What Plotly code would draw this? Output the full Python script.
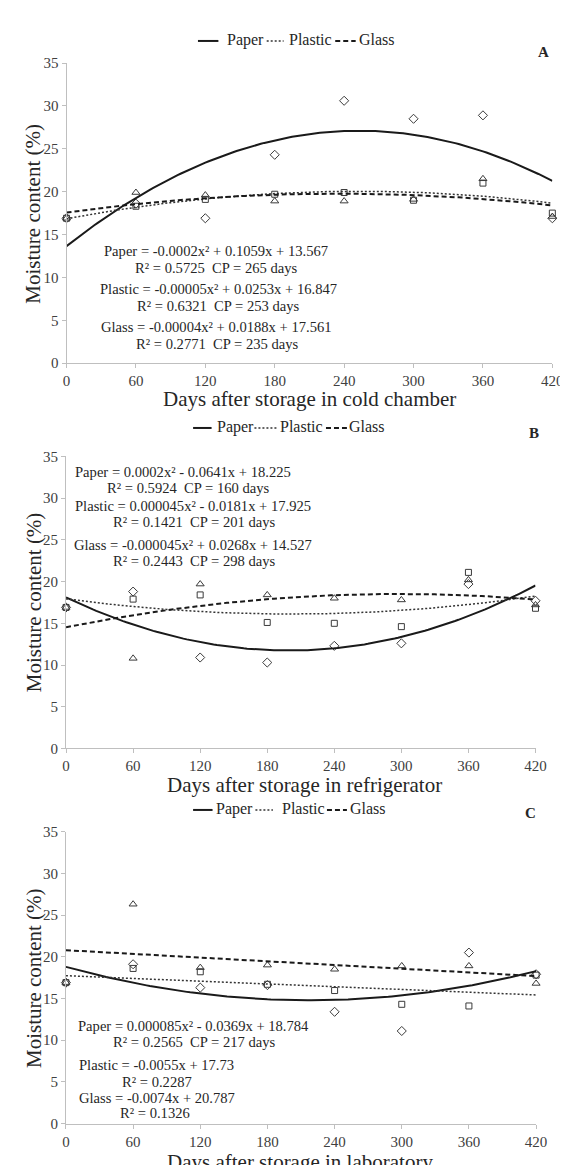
import numpy as np
import plotly.graph_objects as go

W, H = 568, 1165
FONT = "Liberation Serif"

# ---------------- data ----------------
days = [0, 60, 120, 180, 240, 300, 360, 420]
x_ticks = [0, 60, 120, 180, 240, 300, 360, 420]
y_ticks = [0, 5, 10, 15, 20, 25, 30, 35]

# Panel A - cold chamber
paper_A = [16.9, 18.6, 16.9, 24.3, 30.6, 28.5, 28.9, 16.9]
plastic_A = [16.9, 18.3, 19.1, 19.7, 19.9, 19.0, 21.0, 17.5]
glass_A = [16.9, 19.9, 19.6, 18.9, 18.9, 19.1, 21.5, 17.1]
# Panel B - refrigerator
paper_B = [16.9, 18.8, 10.9, 10.3, 12.3, 12.6, 19.7, 17.7]
plastic_B = [16.9, 17.9, 18.4, 15.1, 15.0, 14.6, 21.1, 16.8]
glass_B = [16.9, 10.8, 19.7, 18.4, 18.0, 17.8, 20.2, 17.2]
# Panel C - laboratory
paper_C = [16.9, 19.1, 16.3, 16.6, 13.4, 11.1, 20.5, 17.9]
plastic_C = [16.9, 18.6, 18.2, 16.7, 15.95, 14.3, 14.1, 17.8]
glass_C = [16.9, 26.3, 18.7, 19.0, 18.5, 18.9, 18.9, 16.8]

# trend-line coefficients [a, b, c] for a*x^2 + b*x + c (as drawn)
paper_fit_A = [-0.00021, 0.1063, 13.65]
plastic_fit_A = [-0.00005, 0.0253, 16.847]
glass_fit_A = [-0.00004, 0.0188, 17.561]
paper_fit_B = [0.00016, -0.0638, 18.1]
plastic_fit_B = [0.000045, -0.0181, 17.925]
glass_fit_B = [-0.000045, 0.0268, 14.527]
paper_fit_C = [0.000085, -0.0369, 18.784]
plastic_fit_C = [0.0, -0.0055, 17.73]
glass_fit_C = [0.0, -0.0074, 20.787]

series_names = ["Paper", "Plastic", "Glass"]

eq_A = ["Paper = -0.0002x² + 0.1059x + 13.567", "R² = 0.5725 \u00a0CP = 265 days",
        "Plastic = -0.00005x² + 0.0253x + 16.847", "R² = 0.6321 \u00a0CP = 253 days",
        "Glass = -0.00004x² + 0.0188x + 17.561", "R² = 0.2771 \u00a0CP = 235 days"]
eq_B = ["Paper = 0.0002x² - 0.0641x + 18.225", "R² = 0.5924 \u00a0CP = 160 days",
        "Plastic = 0.000045x² - 0.0181x + 17.925", "R² = 0.1421 \u00a0CP = 201 days",
        "Glass = -0.000045x² + 0.0268x + 14.527", "R² = 0.2443 \u00a0CP = 298 days"]
eq_C = ["Paper = 0.000085x² - 0.0369x + 18.784", "R² = 0.2565 \u00a0CP = 217 days",
        "Plastic = -0.0055x + 17.73", "R² = 0.2287",
        "Glass = -0.0074x + 20.787", "R² = 0.1326"]

x_titles = ["Days after storage in cold chamber", "Days after storage in refrigerator",
            "Days after storage in laboratory"]
y_title = "Moisture content (%)"
panel_letters = ["A", "B", "C"]

# ---------------- layout geometry (pixels) ----------------
panels = [
    dict(x0=56, x1=555, ytop=47.7, ybot=352, pts=(paper_A, plastic_A, glass_A),
         fits=(paper_fit_A, plastic_fit_A, glass_fit_A), eq=eq_A,
         eq_pos=[(210, 238.3), (210, 255.5), (212, 277.3), (212, 294.3), (210, 315), (211, 332.3)],
         xt=(306, 388, "middle"), yt=(22, 200), letter=(546, 37), leg_y=24.3,
         leg=[(191, 212, 219), (261.6, 279, 282.6), (332, 353, 354)]),
    dict(x0=55.5, x1=537.7, ytop=446.5, ybot=742.7, pts=(paper_B, plastic_B, glass_B),
         fits=(paper_fit_B, plastic_fit_B, glass_fit_B), eq=eq_B,
         eq_pos=[(175.4, 462.7), (181, 479), (186, 496.7), (187.5, 513.3), (185.7, 536), (187, 552.7)],
         xt=(300, 780, "middle"), yt=(22, 594), letter=(536, 423), leg_y=416.7,
         leg=[(186, 205, 208), (249, 272, 273.5), (322.5, 344, 344)]),
    dict(x0=55.4, x1=538.3, ytop=827, ybot=1123, pts=(paper_C, plastic_C, glass_C),
         fits=(paper_fit_C, plastic_fit_C, glass_fit_C), eq=eq_C,
         eq_pos=[(186.6, 1024.3), (187, 1040.7), (148.8, 1063.3), (149, 1080.7), (149, 1096.7), (147, 1112.7)],
         xt=(296, 1147.5, "top"), yt=(22, 975), letter=(532.6, 808), leg_y=804,
         leg=[(186, 206, 207), (250, 268, 275), (323.5, 344, 345)]),
]

def PX(x):
    return x / W

def PY(y):
    return 1 - y / H

symbols = ["diamond-open", "square-open", "triangle-up-open"]
sizes = [7, 6, 7]
line_styles = [dict(color="#1a1a1a", width=2, dash="solid"),
               dict(color="#333333", width=1.5, dash="2px,2px"),
               dict(color="#1a1a1a", width=2, dash="5px,3px")]

fig = go.Figure()
xfit = np.linspace(0, 420, 141)

annotations = []
shapes = []
layout_axes = {}

for i, p in enumerate(panels):
    xa = "x" if i == 0 else f"x{i+1}"
    ya = "y" if i == 0 else f"y{i+1}"
    # markers
    for k in range(3):
        fig.add_trace(go.Scatter(
            x=days, y=p["pts"][k], mode="markers", xaxis=xa, yaxis=ya,
            marker=dict(symbol=symbols[k], size=sizes[k], color="#3a3a3a",
                        line=dict(width=1, color="#3a3a3a")),
            cliponaxis=False, showlegend=False, name=series_names[k]))
    # trend lines
    for k in range(3):
        a, b, c = p["fits"][k]
        fig.add_trace(go.Scatter(
            x=xfit, y=a * xfit ** 2 + b * xfit + c, mode="lines", xaxis=xa, yaxis=ya,
            line=line_styles[k], showlegend=False, name=series_names[k] + " trend",
            hoverinfo="skip"))

    xkey = "xaxis" if i == 0 else f"xaxis{i+1}"
    ykey = "yaxis" if i == 0 else f"yaxis{i+1}"
    common = dict(showline=True, linecolor="#bfbfbf", linewidth=1, ticks="outside",
                  ticklen=4, tickcolor="#bfbfbf", tickwidth=1, showgrid=False,
                  zeroline=False, tickfont=dict(family=FONT, size=15, color="#404040"))
    layout_axes[xkey] = dict(domain=[PX(p["x0"]), PX(p["x1"])], range=[0, 420],
                             tickvals=x_ticks, anchor=ya, **common)
    layout_axes[ykey] = dict(domain=[PY(p["ybot"]), PY(p["ytop"])], range=[0, 35],
                             tickvals=y_ticks, anchor=xa, **common)

    # equations
    for txt, (ex, ey) in zip(p["eq"], p["eq_pos"]):
        annotations.append(dict(text=txt, x=PX(ex), y=PY(ey), xref="paper", yref="paper",
                                xanchor="center", yanchor="middle", showarrow=False,
                                font=dict(family=FONT, size=14.6, color="#262626")))
    # axis titles
    annotations.append(dict(text=x_titles[i], x=PX(p["xt"][0]), y=PY(p["xt"][1]),
                            xref="paper", yref="paper", xanchor="center", yanchor=p["xt"][2],
                            showarrow=False, font=dict(family=FONT, size=21, color="#262626")))
    annotations.append(dict(text=y_title, x=PX(p["yt"][0]), y=PY(p["yt"][1]),
                            xref="paper", yref="paper", xanchor="center", yanchor="middle",
                            textangle=-90, showarrow=False,
                            font=dict(family=FONT, size=21, color="#262626")))
    # panel letter
    annotations.append(dict(text="<b>" + panel_letters[i] + "</b>", x=PX(p["letter"][0]),
                            y=PY(p["letter"][1]), xref="paper", yref="paper",
                            xanchor="center", yanchor="middle", showarrow=False,
                            font=dict(family=FONT, size=15, color="#262626")))
    # legend (manual)
    ly = p["leg_y"]
    for k, (lx0, lx1, tx) in enumerate(p["leg"]):
        ls = line_styles[k]
        shapes.append(dict(type="line", xref="paper", yref="paper",
                           x0=PX(lx0), x1=PX(lx1), y0=PY(ly + 1), y1=PY(ly + 1),
                           line=dict(color=ls["color"], width=ls["width"], dash=ls["dash"])))
        annotations.append(dict(text=series_names[k], x=PX(tx), y=PY(ly), xref="paper",
                                yref="paper", xanchor="left", yanchor="middle",
                                showarrow=False,
                                font=dict(family=FONT, size=16, color="#262626")))

fig.update_layout(width=W, height=H, margin=dict(l=0, r=0, t=0, b=0),
                  paper_bgcolor="white", plot_bgcolor="white",
                  annotations=annotations, shapes=shapes, showlegend=False,
                  **layout_axes)

fig.write_html("out.html")
